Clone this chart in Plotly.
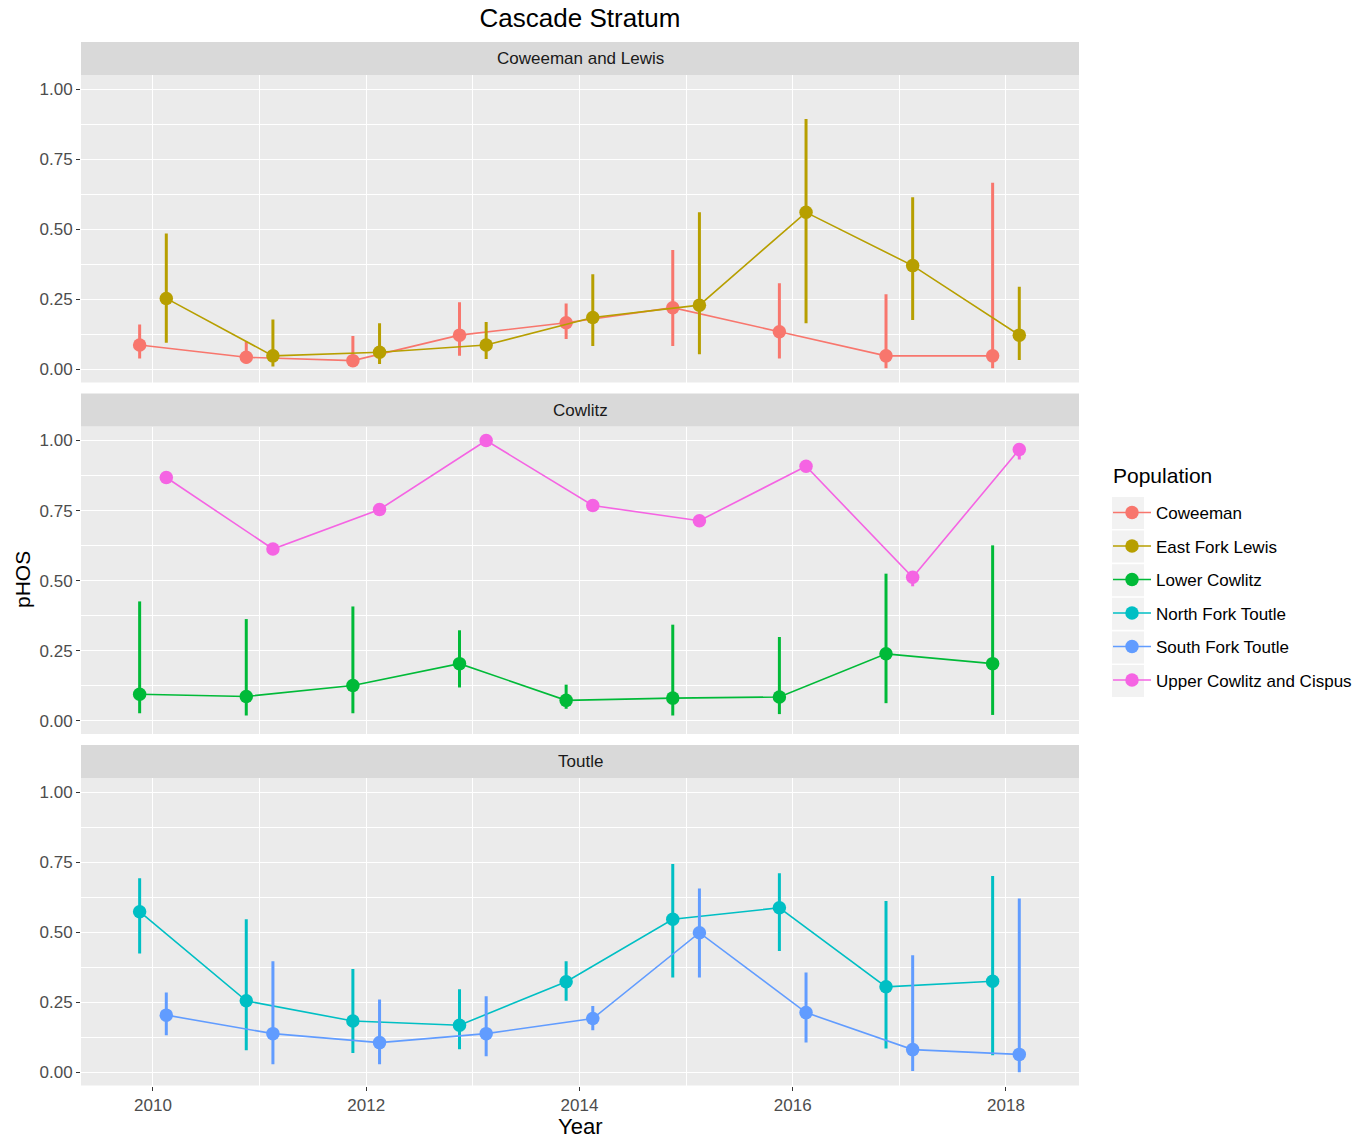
import plotly.graph_objects as go

years = [2010, 2011, 2012, 2013, 2014, 2015, 2016, 2017, 2018]

panels = ["Coweeman and Lewis", "Cowlitz", "Toutle"]
populations = ["Coweeman", "East Fork Lewis", "Lower Cowlitz",
               "North Fork Toutle", "South Fork Toutle", "Upper Cowlitz and Cispus"]
pop_colors = ["#F8766D", "#B79F00", "#00BA38", "#00BFC4", "#619CFF", "#F564E3"]
pop_panel = [0, 0, 1, 2, 2, 1]

# pHOS estimates and interval bounds
coweeman = [0.087, 0.043, 0.031, 0.122, 0.166, 0.220, 0.134, 0.048, 0.048]
coweeman_lo = [0.039, 0.021, 0.010, 0.048, 0.108, 0.083, 0.039, 0.004, 0.004]
coweeman_hi = [0.160, 0.099, 0.119, 0.239, 0.235, 0.426, 0.307, 0.268, 0.666]

east_fork_lewis = [0.253, 0.048, 0.061, 0.087, 0.185, 0.229, 0.560, 0.370, 0.122]
east_fork_lewis_lo = [0.095, 0.010, 0.019, 0.037, 0.083, 0.054, 0.164, 0.176, 0.033]
east_fork_lewis_hi = [0.485, 0.178, 0.164, 0.169, 0.339, 0.560, 0.893, 0.614, 0.295]

lower_cowlitz = [0.095, 0.087, 0.126, 0.204, 0.073, 0.081, 0.085, 0.239, 0.204]
lower_cowlitz_lo = [0.027, 0.019, 0.027, 0.119, 0.043, 0.019, 0.024, 0.063, 0.021]
lower_cowlitz_hi = [0.426, 0.363, 0.408, 0.323, 0.129, 0.343, 0.299, 0.525, 0.626]

north_fork_toutle = [0.573, 0.255, 0.183, 0.168, 0.323, 0.546, 0.587, 0.305, 0.325]
north_fork_toutle_lo = [0.424, 0.079, 0.069, 0.082, 0.255, 0.338, 0.433, 0.085, 0.061]
north_fork_toutle_hi = [0.692, 0.546, 0.369, 0.296, 0.396, 0.743, 0.710, 0.611, 0.700]

south_fork_toutle = [0.204, 0.138, 0.106, 0.138, 0.192, 0.498, 0.213, 0.081, 0.064]
south_fork_toutle_lo = [0.132, 0.029, 0.029, 0.057, 0.150, 0.338, 0.106, 0.005, 0.000]
south_fork_toutle_hi = [0.285, 0.396, 0.260, 0.271, 0.237, 0.656, 0.356, 0.418, 0.620]

upper_cowlitz = [0.868, 0.613, 0.754, 1.000, 0.768, 0.714, 0.908, 0.512, 0.968]
upper_cowlitz_lo = [0.860, 0.605, 0.746, 0.995, 0.760, 0.706, 0.900, 0.480, 0.932]
upper_cowlitz_hi = [0.876, 0.621, 0.762, 1.000, 0.776, 0.722, 0.916, 0.530, 0.990]

values = [coweeman, east_fork_lewis, lower_cowlitz, north_fork_toutle, south_fork_toutle, upper_cowlitz]
lows = [coweeman_lo, east_fork_lewis_lo, lower_cowlitz_lo, north_fork_toutle_lo, south_fork_toutle_lo, upper_cowlitz_lo]
highs = [coweeman_hi, east_fork_lewis_hi, lower_cowlitz_hi, north_fork_toutle_hi, south_fork_toutle_hi, upper_cowlitz_hi]

FONT = "Liberation Sans, Arial, sans-serif"
W, H = 1372, 1141
ML, MT = 81, 42
MR = W - 1079
MB = H - 1086
plot_w = W - ML - MR
plot_h = H - MT - MB
strip_px = 33
panel_px = 307.5
gap_px = 11

def py2paper(py, clamp=True):
    v = ((H - MB) - py) / plot_h
    return min(1.0, max(0.0, v)) if clamp else v

def px2paper(px):
    return (px - ML) / plot_w

fig = go.Figure()

strip_tops = [MT + i * (strip_px + panel_px + gap_px) for i in range(3)]
axis_names = ["", "2", "3"]

# dodge: first population in a panel at -0.125, second at +0.125
dodge = {}
seen = {0: 0, 1: 0, 2: 0}
for i, p in enumerate(populations):
    k = pop_panel[i]
    dodge[i] = -0.125 if seen[k] == 0 else 0.125
    seen[k] += 1

for i, name in enumerate(populations):
    k = pop_panel[i]
    xs = [y + dodge[i] for y in years]
    v = values[i]
    fig.add_trace(go.Scatter(
        x=xs, y=v,
        mode="lines+markers",
        name=name,
        legendgroup=name,
        line=dict(color=pop_colors[i], width=1.6),
        marker=dict(color=pop_colors[i], size=13.5),
        error_y=dict(type="data", symmetric=False,
                     array=[h - a for h, a in zip(highs[i], v)],
                     arrayminus=[a - l for a, l in zip(v, lows[i])],
                     color=pop_colors[i], thickness=3, width=0),
        xaxis="x" + axis_names[k], yaxis="y" + axis_names[k],
    ))

shapes = []
annotations = []
for k in range(3):
    st = strip_tops[k]
    y_top = py2paper(st + strip_px)
    y_bot = py2paper(st + strip_px + panel_px)
    xa = dict(
        domain=[0, 1], range=[2009.325, 2018.685],
        tick0=2010, dtick=2, showgrid=True, gridcolor="white", gridwidth=1.4,
        minor=dict(dtick=1, showgrid=True, gridcolor="white", gridwidth=0.7),
        zeroline=False, showline=False,
        ticks="outside" if k == 2 else "", ticklen=4, tickcolor="#333333",
        showticklabels=(k == 2),
        tickfont=dict(family=FONT, size=17, color="#4D4D4D"),
        anchor="y" + axis_names[k],
    )
    if k > 0:
        xa["matches"] = "x"
    ya = dict(
        domain=[y_bot, y_top], range=[-0.047, 1.05],
        tick0=0, dtick=0.25, tickformat=".2f",
        showgrid=True, gridcolor="white", gridwidth=1.4,
        minor=dict(dtick=0.125, showgrid=True, gridcolor="white", gridwidth=0.7),
        zeroline=False, showline=False,
        ticks="outside", ticklen=4, tickcolor="#333333",
        tickfont=dict(family=FONT, size=17, color="#4D4D4D"),
        anchor="x" + axis_names[k],
    )
    fig.update_layout(**{"xaxis" + axis_names[k]: xa, "yaxis" + axis_names[k]: ya})
    shapes.append(dict(type="rect", xref="paper", yref="paper",
                       x0=0, x1=1, y0=y_top, y1=py2paper(st),
                       fillcolor="#D9D9D9", line=dict(width=0), layer="below"))
    annotations.append(dict(text=panels[k], xref="paper", yref="paper",
                            x=0.5, y=(y_top + py2paper(st)) / 2, showarrow=False,
                            xanchor="center", yanchor="middle",
                            font=dict(family=FONT, size=17, color="#1A1A1A")))

# legend key backgrounds (ggplot style)
leg_first, leg_step = 513, 33.6
for j in range(len(populations)):
    cy = leg_first + j * leg_step
    shapes.append(dict(type="rect", xref="paper", yref="paper",
                       x0=px2paper(1112), x1=px2paper(1144),
                       y0=py2paper(cy + 16, False), y1=py2paper(cy - 16, False),
                       fillcolor="#F2F2F2", line=dict(width=0), layer="below"))

annotations.append(dict(text="Year", xref="paper", yref="paper", x=0.5, y=py2paper(1126, False),
                        showarrow=False, xanchor="center", yanchor="middle",
                        font=dict(family=FONT, size=22, color="black")))
annotations.append(dict(text="pHOS", xref="paper", yref="paper", x=px2paper(22),
                        y=py2paper(580), showarrow=False, textangle=-90,
                        xanchor="center", yanchor="middle",
                        font=dict(family=FONT, size=21, color="black")))
annotations.append(dict(text="Population", xref="paper", yref="paper", x=px2paper(1111),
                        y=py2paper(476), showarrow=False,
                        xanchor="left", yanchor="middle",
                        font=dict(family=FONT, size=21, color="black")))

fig.update_layout(
    width=W, height=H,
    margin=dict(l=ML, r=MR, t=MT, b=MB),
    paper_bgcolor="white", plot_bgcolor="#EBEBEB",
    title=dict(text="Cascade Stratum", x=0.5, xref="paper", y=1 - 18 / H, yref="container",
               xanchor="center", yanchor="middle",
               font=dict(family=FONT, size=26, color="black")),
    shapes=shapes, annotations=annotations,
    legend=dict(x=px2paper(1108), y=py2paper(495, False), xanchor="left", yanchor="top",
                font=dict(family=FONT, size=17, color="black"),
                itemwidth=38,
                tracegroupgap=8.4, bgcolor="rgba(0,0,0,0)"),
    showlegend=True,
)

fig.write_html("out.html", config={"displayModeBar": False},
               post_script="document.body.style.margin='0px';document.body.style.overflow='hidden';")
